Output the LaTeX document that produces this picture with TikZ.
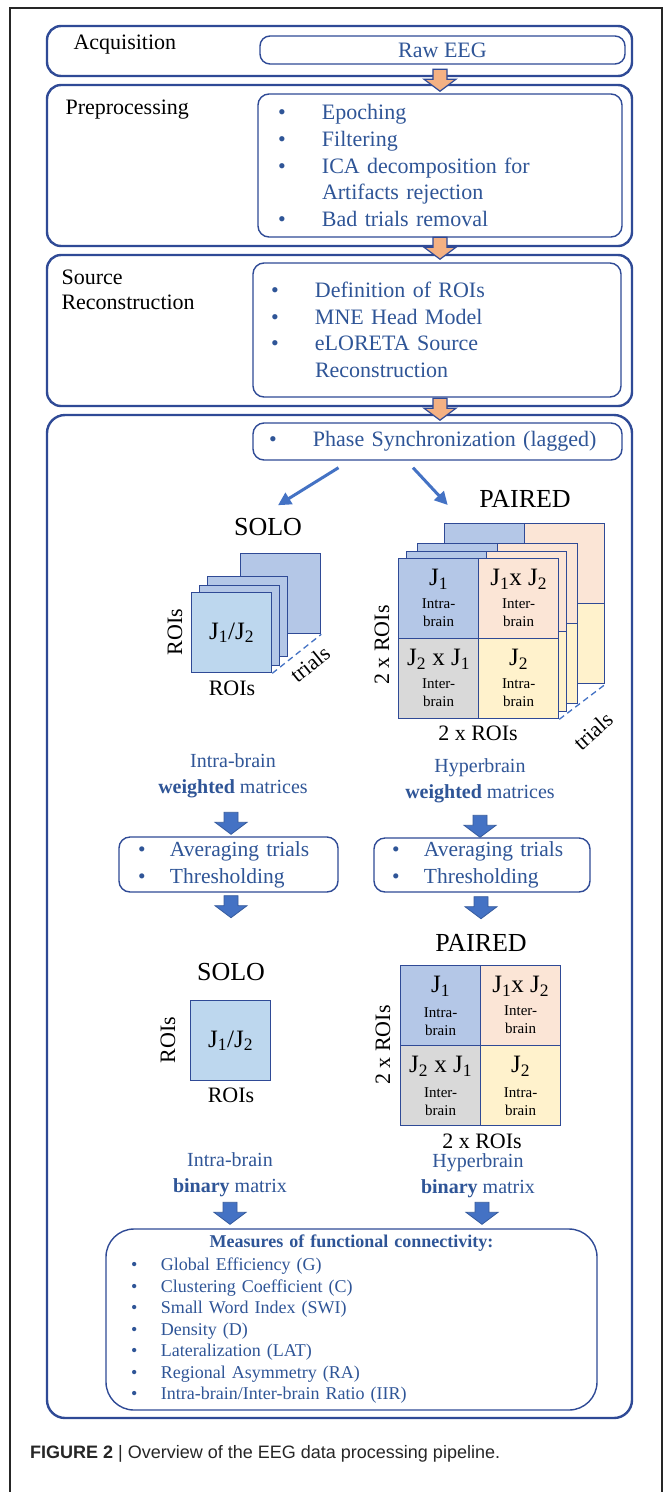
\documentclass[tikz,border=0pt]{standalone}
\usepackage{fontspec}
\setmainfont{Liberation Serif}
\setsansfont{Liberation Sans}
\usetikzlibrary{calc,arrows.meta}

\definecolor{boxblue}{HTML}{2F4A96}
\definecolor{txtblue}{HTML}{2F5597}
\definecolor{arrblue}{HTML}{4472C4}
\definecolor{orangefill}{HTML}{F4B183}
\definecolor{cintra}{HTML}{B4C7E7}
\definecolor{csolo}{HTML}{BDD7EE}
\definecolor{cinter}{HTML}{FBE5D6}
\definecolor{cgrey}{HTML}{D9D9D9}
\definecolor{cyellow}{HTML}{FFF2CC}

\newcommand\fsz[2]{\fontsize{#1}{#2}\selectfont}
\newcommand\bul[1]{\makebox[#1][l]{\textbullet}}

\tikzset{
  outerbox/.style={draw=boxblue, line width=2.4pt, rounded corners=14pt, minimum width=585pt},
  listbox/.style={draw=boxblue, line width=1.4pt, rounded corners=11pt, text=txtblue, align=left, inner ysep=0pt},
  steplabel/.style={anchor=west, font=\fsz{22}{25}, align=left},
  bluetext/.style={text=txtblue, font=\fsz{20}{26}, align=center},
  bigtitle/.style={font=\fsz{26}{28}},
  axlabel/.style={font=\fsz{22}{24}},
  cell/.style={draw=boxblue, line width=1.3pt, minimum size=80pt, inner sep=0pt, anchor=north west},
  jtext/.style={font=\fsz{25}{28}, inner sep=0pt},
  subtext/.style={font=\fsz{15}{18}, align=center, inner sep=0pt},
  flow/.style={draw=arrblue, line width=3pt, -{Triangle[length=13pt,width=13pt]}},
  trialsline/.style={draw=arrblue, line width=1.3pt, dash pattern=on 6pt off 4pt},
  orangearr/.style={fill=orangefill, draw=boxblue, line width=1.2pt},
  bluearr/.style={fill=arrblue, draw=arrblue!80!black, line width=0.8pt},
  blockarrow/.pic={\path[pic actions] (-7,0) -- (7,0) -- (7,10) -- (16,10) -- (0,22) -- (-16,10) -- (-7,10) -- cycle;}
}

\begin{document}
\begin{tikzpicture}[x=1pt,y=-1pt]
\useasboundingbox (0,0) rectangle (672,1492);
\fill[white] (0,0) rectangle (672,1492);
% page frame
\draw[line width=1.2pt, black!85] (10,1492) -- (10,8) -- (662,8) -- (662,1492);

% acquisition
\node[outerbox, minimum height=50pt] (acq) at (339.5,51) {};
\node[steplabel] (acqlbl) at (70,45) {Acquisition};
\node[listbox, minimum width=365pt, minimum height=28pt, rounded corners=10pt, font=\fsz{22}{25}] (raw) at (442.5,50) {Raw EEG};

% preprocessing
\node[outerbox, minimum height=161pt] (pre) at (339.5,165.5) {};
\node[steplabel] (prelbl) at (62,110) {Preprocessing};
\node[listbox, text width=324pt, inner xsep=20pt, minimum height=143pt, font=\fsz{22}{26.8}] (prelist) at (440,165.5)
  {\bul{44pt}Epoching\\ \bul{44pt}Filtering\\ \bul{44pt}ICA decomposition for\\ \hspace*{44pt}Artifacts rejection\\ \bul{44pt}Bad trials removal};

% source reconstruction
\node[outerbox, minimum height=151pt] (src) at (339.5,330.5) {};
\node[steplabel] (srclbl) at (58,289.5) {Source\\Reconstruction};
\node[listbox, text width=332pt, inner xsep=18pt, minimum height=134pt, font=\fsz{22}{26.7}] (srclist) at (437,330)
  {\bul{44pt}Definition of ROIs\\ \bul{44pt}MNE Head Model\\ \bul{44pt}eLORETA Source\\ \hspace*{44pt}Reconstruction};

% connectivity
\node[outerbox, minimum height=1003pt, rounded corners=18pt] (main) at (339.5,916.5) {};
\node[listbox, text width=337pt, inner xsep=16pt, minimum height=37pt, font=\fsz{22}{25}] (phase) at (437.5,441.5)
  {\bul{44pt}Phase Synchronization (lagged)};

\pic[orangearr] at ($(acq.south)+(100.5,-8)$) {blockarrow};
\pic[orangearr] at ($(pre.south)+(100.5,-10)$) {blockarrow};
\pic[orangearr] at ($(src.south)+(100.5,-9)$) {blockarrow};

\node[bigtitle] (solo1) at (268,527) {SOLO};
\node[bigtitle] (pair1) at (525,499) {PAIRED};
\draw[flow] ([xshift=-99pt,yshift=-7pt]phase.south) -- ([xshift=10pt,yshift=9.5pt]solo1.north);
\draw[flow] ([xshift=-24.5pt,yshift=-7pt]phase.south) -- ([xshift=-28pt,yshift=-6pt]pair1.west);

% solo trials stack
\foreach \dx/\dy/\n in {49/-39/c, 16/-16/b, 8/-7/a}
  \node[cell, fill=cintra] (solo\n) at (191+\dx,592+\dy) {};
\node[cell, fill=csolo] (solofront) at (191,592) {};
\node[jtext] (soloj) at (solofront.center) {J\textsubscript{1}/J\textsubscript{2}};
\draw[trialsline] (solofront.south east) -- (soloc.south east);
\node[axlabel, rotate=90] (sololeft) at (175,632) {ROIs};
\node[axlabel] (solobottom) at (232,688) {ROIs};
\node[axlabel, rotate=39, inner sep=0pt] (solotrials) at (310,664) {trials};

% paired trials stack
\foreach \dx/\dy/\n in {46/-35/c, 19/-15/b, 8/-7/a, 0/0/f} {
  \node[cell, fill=cintra] (p\n11) at (398+\dx,558+\dy) {};
  \node[cell, fill=cinter] (p\n12) at (478+\dx,558+\dy) {};
  \node[cell, fill=cgrey] (p\n21) at (398+\dx,638+\dy) {};
  \node[cell, fill=cyellow] (p\n22) at (478+\dx,638+\dy) {};
}
\node[jtext] (pj11) at ($(pf11.center)+(0,-19)$) {J\textsubscript{1}};
\node[subtext] (ps11) at ($(pf11.center)+(0,14)$) {Intra-\\brain};
\node[jtext] (pj12) at ($(pf12.center)+(0,-19)$) {J\textsubscript{1}x J\textsubscript{2}};
\node[subtext] (ps12) at ($(pf12.center)+(0,14)$) {Inter-\\brain};
\node[jtext] (pj21) at ($(pf21.center)+(0,-19)$) {J\textsubscript{2} x J\textsubscript{1}};
\node[subtext] (ps21) at ($(pf21.center)+(0,14)$) {Inter-\\brain};
\node[jtext] (pj22) at ($(pf22.center)+(0,-19)$) {J\textsubscript{2}};
\node[subtext] (ps22) at ($(pf22.center)+(0,14)$) {Intra-\\brain};
\draw[trialsline] (pf22.south east) -- (pc22.south east);
\node[axlabel, rotate=90] (pairleft) at (382,645) {2 x ROIs};
\node[axlabel] (pairbottom) at (478,733) {2 x ROIs};
\node[axlabel, rotate=42, inner sep=0pt] (pairtrials) at (593,731) {trials};

% weighted -> thresholding
\node[bluetext] (wl) at (233,776) {Intra-brain\\\textbf{weighted} matrices};
\node[bluetext] (wr) at (480,781) {Hyperbrain\\\textbf{weighted} matrices};
\node[listbox, text width=181pt, inner xsep=19pt, minimum height=55pt, font=\fsz{21.5}{27}] (avgl) at (228.5,864.5)
  {\bul{32pt}Averaging trials\\ \bul{32pt}Thresholding};
\node[listbox, text width=180pt, inner xsep=18pt, minimum height=54pt, font=\fsz{21.5}{27}] (avgr) at (482,865)
  {\bul{32pt}Averaging trials\\ \bul{32pt}Thresholding};
\pic[bluearr] at ($(avgl.north)+(2.5,-24)$) {blockarrow};
\pic[bluearr] at ($(avgr.north)+(-2,-22)$) {blockarrow};
\pic[bluearr] at ($(avgl.south)+(2.5,3)$) {blockarrow};
\pic[bluearr] at ($(avgr.south)+(-1,4)$) {blockarrow};

% averaged matrices
\node[bigtitle] (solo2) at (231,972) {SOLO};
\node[bigtitle] (pair2) at (481,943) {PAIRED};
\node[cell, fill=csolo] (solosq) at (190,1000) {};
\node[jtext] (solosqj) at (solosq.center) {J\textsubscript{1}/J\textsubscript{2}};
\node[axlabel, rotate=90] (solosqleft) at (168,1040) {ROIs};
\node[axlabel] (solosqbottom) at (231,1095) {ROIs};

\node[cell, fill=cintra] (g11) at (400,965) {};
\node[cell, fill=cinter] (g12) at (480,965) {};
\node[cell, fill=cgrey] (g21) at (400,1045) {};
\node[cell, fill=cyellow] (g22) at (480,1045) {};
\node[jtext] (gj11) at ($(g11.center)+(0,-19)$) {J\textsubscript{1}};
\node[subtext] (gs11) at ($(g11.center)+(0,16)$) {Intra-\\brain};
\node[jtext] (gj12) at ($(g12.center)+(0,-19)$) {J\textsubscript{1}x J\textsubscript{2}};
\node[subtext] (gs12) at ($(g12.center)+(0,14)$) {Inter-\\brain};
\node[jtext] (gj21) at ($(g21.center)+(0,-19)$) {J\textsubscript{2} x J\textsubscript{1}};
\node[subtext] (gs21) at ($(g21.center)+(0,16)$) {Inter-\\brain};
\node[jtext] (gj22) at ($(g22.center)+(0,-19)$) {J\textsubscript{2}};
\node[subtext] (gs22) at ($(g22.center)+(0,16)$) {Intra-\\brain};
\node[axlabel, rotate=90] (gridleft) at (383,1045) {2 x ROIs};
\node[axlabel] (gridbottom) at (482,1141) {2 x ROIs};

% binary -> measures
\node[bluetext] (bl) at (230,1175) {Intra-brain\\\textbf{binary} matrix};
\node[bluetext] (br) at (478,1176) {Hyperbrain\\\textbf{binary} matrix};
\node[listbox, rounded corners=28pt, text width=441pt, inner xsep=25pt, minimum height=181pt, font=\fsz{18}{21.5}] (meas) at (351.5,1319.5)
  {\makebox[441pt][c]{\textbf{Measures of functional connectivity:}}\\[1.5pt]
   \bul{30pt}Global Efficiency (G)\\ \bul{30pt}Clustering Coefficient (C)\\ \bul{30pt}Small Word Index (SWI)\\
   \bul{30pt}Density (D)\\ \bul{30pt}Lateralization (LAT)\\ \bul{30pt}Regional Asymmetry (RA)\\
   \bul{30pt}Intra-brain/Inter-brain Ratio (IIR)};
\pic[bluearr] at ($(meas.north)+(-121.5,-26)$) {blockarrow};
\pic[bluearr] at ($(meas.north)+(130.5,-26)$) {blockarrow};

% caption
\node[anchor=west, font=\sffamily\fsz{18}{20}, text=black!85, inner sep=0pt] (caption) at (30,1454)
  {\textbf{FIGURE 2} | Overview of the EEG data processing pipeline.};
\end{tikzpicture}
\end{document}
